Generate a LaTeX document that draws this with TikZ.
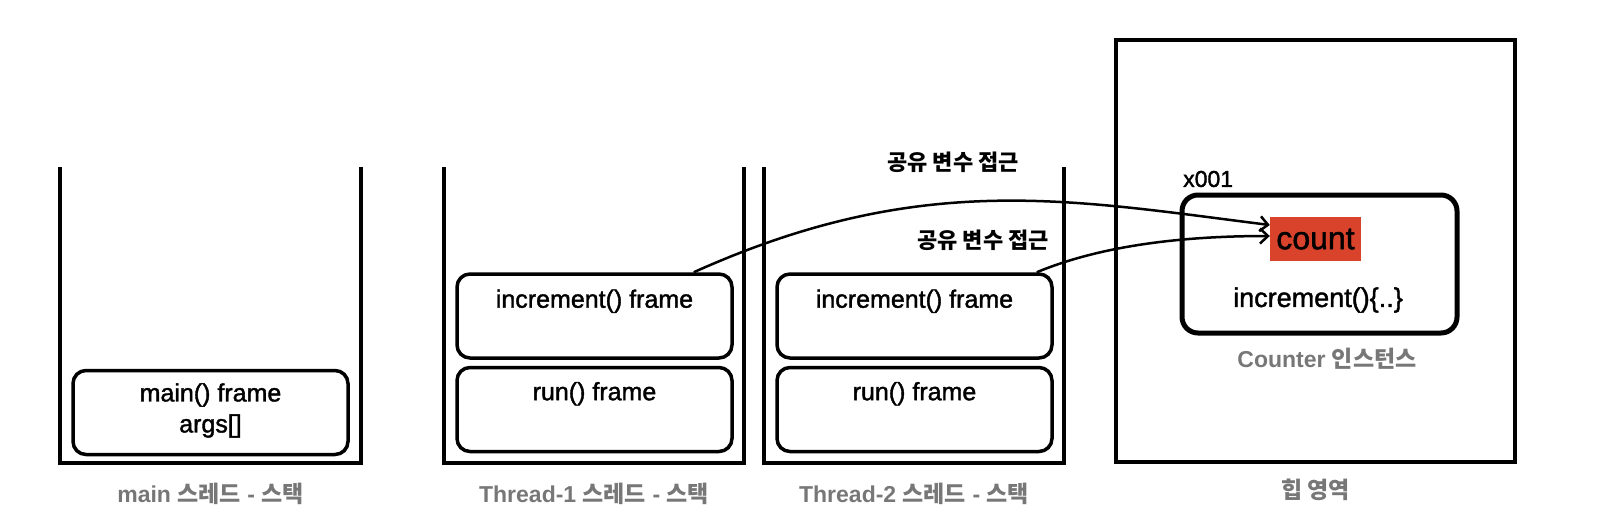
\documentclass[tikz,border=0pt]{standalone}
\usepackage{fontspec}
\setmainfont{Liberation Sans}
\newfontfamily\medfont{Liberation Sans}[FakeBold=1.5]
\newfontfamily\kr{Noto Sans CJK KR}
\usetikzlibrary{arrows.meta}
\definecolor{cntred}{HTML}{D9432B}
\definecolor{lblgray}{HTML}{777777}
\tikzset{
  wall/.style={line width=4pt, line join=miter},
  framebox/.style={draw, line width=3.5pt, rounded corners=13pt, minimum width=275pt, minimum height=84pt, inner sep=0pt},
  ftxt/.style={font=\fontsize{25}{31}\selectfont\medfont, align=center, inner sep=0pt},
  glbl/.style={font=\fontsize{23}{27}\selectfont\bfseries, text=lblgray, inner sep=0pt},
  klbl/.style={font=\fontsize{22}{26}\selectfont\bfseries\kr, inner sep=0pt},
  acc/.style={line width=2.5pt, -{Straight Barb[length=8pt, width=15pt, line width=2.5pt]}},
}
\begin{document}
\begin{tikzpicture}[x=1pt, y=-1pt]
\useasboundingbox (0,0) rectangle (1606,520);
% main stack
\draw[wall] (60,167) -- (60,463) -- (361,463) -- (361,167);
\node[framebox] (mainf) at (210.5,412.5) {};
\node[ftxt] (maint) at ([yshift=2pt]mainf.center) {main() frame\\args[]};
\node[glbl] (mainl) at (210.5,494) {main {\kr 스레드} - {\kr 스택}};
% Thread-1 stack
\draw[wall] (444,167) -- (444,463) -- (744,463) -- (744,167);
\node[framebox] (t1inc) at (594.5,316) {};
\node[ftxt] (t1inct) at ([yshift=-29pt]t1inc.north) {increment() frame};
\node[framebox] (t1run) at (594.5,409.5) {};
\node[ftxt] (t1runt) at ([yshift=-28pt]t1run.north) {run() frame};
\node[glbl] (t1l) at (594,494) {Thread-1 {\kr 스레드} - {\kr 스택}};
% Thread-2 stack
\draw[wall] (764,167) -- (764,463) -- (1064,463) -- (1064,167);
\node[framebox] (t2inc) at (914.5,316) {};
\node[ftxt] (t2inct) at ([yshift=-29pt]t2inc.north) {increment() frame};
\node[framebox] (t2run) at (914.5,409.5) {};
\node[ftxt] (t2runt) at ([yshift=-28pt]t2run.north) {run() frame};
\node[glbl] (t2l) at (914,494) {Thread-2 {\kr 스레드} - {\kr 스택}};
% heap
\node[draw, line width=4pt, minimum width=399pt, minimum height=422pt, inner sep=0pt] (heap) at (1315.5,251) {};
\node[glbl] (heapl) at (1315.5,490) {\kr 힙 영역};
\node[draw, line width=5pt, rounded corners=16pt, minimum width=275pt, minimum height=138pt, inner sep=0pt] (inst) at (1319.5,264) {};
\node[font=\fontsize{23}{27}\selectfont\medfont, anchor=west, inner sep=0pt] (addr) at (1183,179) {x001};
\node[fill=cntred, minimum width=91pt, minimum height=44pt, inner sep=0pt, font=\fontsize{32}{36}\selectfont\medfont] (count) at (1315.5,239) {count};
\node[ftxt, font=\fontsize{27}{31}\selectfont\medfont] (incm) at (1318,300) {increment()\{..\}};
\node[glbl] (instl) at (1327,359) {Counter {\kr 인스턴스}};
% labels
\node[klbl] (acc1) at (953,162) {공유 변수 접근};
\node[klbl] (acc2) at (983,240) {공유 변수 접근};
% arrows
\draw[acc] ([xshift=-40pt]t1inc.north east) .. controls (921,170) and (1070,200) .. ([yshift=14pt]count.west);
\draw[acc] ([xshift=-17pt]t2inc.north east) .. controls (1100,246) and (1180,236) .. ([yshift=3pt]count.west);
\end{tikzpicture}
\end{document}
